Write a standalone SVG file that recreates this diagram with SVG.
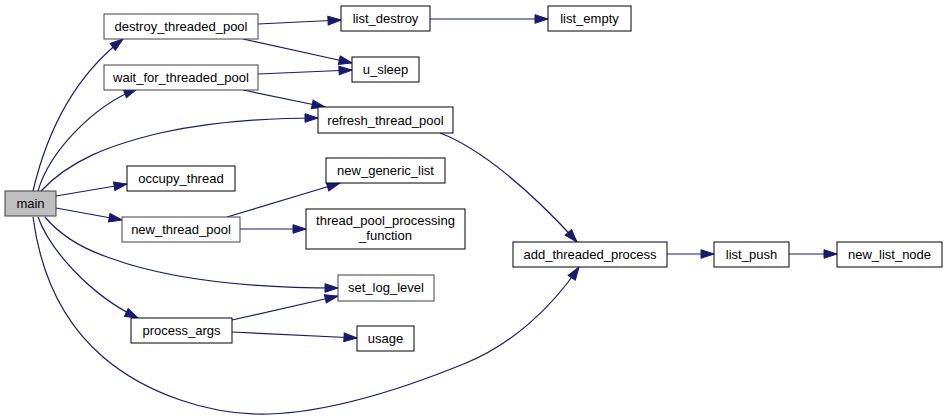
<svg xmlns="http://www.w3.org/2000/svg" width="947" height="420" viewBox="0 0 947 420">
<style>
.n rect{fill:#fff;stroke:#000;stroke-width:1}
.n.d rect{stroke:#404040}
.n.m rect{fill:#bfbfbf;stroke:#404040}
.n text{font-family:"Liberation Sans",Arial,sans-serif;font-size:13px;fill:#000;text-anchor:middle}
.e path{fill:none;stroke:#191970;stroke-width:1.2}
</style>
<defs>
<marker id="a" markerUnits="userSpaceOnUse" markerWidth="15" markerHeight="11" refX="14" refY="5.5" orient="auto" viewBox="0 0 15 11">
<path d="M1,1.2 L14,5.5 L1,9.8 Z" fill="#191970" stroke="#191970" stroke-width="1"/>
</marker>
</defs>
<rect width="947" height="420" fill="#fff"/>
<g id="edges" class="e">
<path marker-end="url(#a)" d="M33,191 C45,140 70,80 123,39"/>
<path marker-end="url(#a)" d="M38,191 C50,150 95,105 137,89"/>
<path marker-end="url(#a)" d="M41,191 C70,160 110,145 160,133 C210,122 260,118 318,118"/>
<path marker-end="url(#a)" d="M56,196 L127,184"/>
<path marker-end="url(#a)" d="M56,208 L122,220"/>
<path marker-end="url(#a)" d="M45,217 C60,235 80,248 110,258 C170,280 250,288 338,288"/>
<path marker-end="url(#a)" d="M38,217 C50,250 90,295 138,318"/>
<path marker-end="url(#a)" d="M33,217 C40,270 60,320 103,357 C145,393 210,416 269,414 C330,412 400,390 466,363 C510,345 550,310 579,267"/>
<path marker-end="url(#a)" d="M258,24 L341,20"/>
<path marker-end="url(#a)" d="M243,39 L352,63"/>
<path marker-end="url(#a)" d="M258,74 L352,70"/>
<path marker-end="url(#a)" d="M243,90 L325,107"/>
<path marker-end="url(#a)" d="M430,19 L548,19"/>
<path marker-end="url(#a)" d="M440,133 C480,148 530,190 577,242"/>
<path marker-end="url(#a)" d="M227,217 L340,183"/>
<path marker-end="url(#a)" d="M240,229 L306,229"/>
<path marker-end="url(#a)" d="M232,320 L338,296"/>
<path marker-end="url(#a)" d="M232,332 L357,338"/>
<path marker-end="url(#a)" d="M667,254 L714,254"/>
<path marker-end="url(#a)" d="M789,254 L837,254"/>
</g>
<g id="main" class="n m"><rect x="5" y="191" width="51" height="25"/><text x="30.5" y="208">main</text></g>
<g id="destroy_threaded_pool" class="n d"><rect x="104" y="14" width="154" height="25"/><text x="181" y="31">destroy_threaded_pool</text></g>
<g id="wait_for_threaded_pool" class="n d"><rect x="104" y="65" width="154" height="25"/><text x="181" y="82">wait_for_threaded_pool</text></g>
<g id="list_destroy" class="n"><rect x="341" y="6" width="89" height="25"/><text x="385.5" y="23">list_destroy</text></g>
<g id="list_empty" class="n"><rect x="548" y="6" width="83" height="25"/><text x="589.5" y="23">list_empty</text></g>
<g id="u_sleep" class="n"><rect x="352" y="57" width="67" height="25"/><text x="385.5" y="74">u_sleep</text></g>
<g id="refresh_thread_pool" class="n"><rect x="318" y="107" width="135" height="26"/><text x="385.5" y="124.5">refresh_thread_pool</text></g>
<g id="occupy_thread" class="n"><rect x="127" y="166" width="108" height="25"/><text x="181" y="183">occupy_thread</text></g>
<g id="new_thread_pool" class="n d"><rect x="122" y="217" width="118" height="25"/><text x="181" y="234">new_thread_pool</text></g>
<g id="new_generic_list" class="n"><rect x="326" y="158" width="119" height="25"/><text x="385.5" y="175">new_generic_list</text></g>
<g id="thread_pool_processing_function" class="n"><rect x="306" y="209" width="159" height="40"/><text x="385.5" y="225">thread_pool_processing</text><text x="385.5" y="240">_function</text></g>
<g id="add_threaded_process" class="n"><rect x="513" y="242" width="154" height="25"/><text x="590" y="259">add_threaded_process</text></g>
<g id="list_push" class="n"><rect x="714" y="242" width="75" height="25"/><text x="751.5" y="259">list_push</text></g>
<g id="new_list_node" class="n"><rect x="837" y="242" width="105" height="25"/><text x="889.5" y="259">new_list_node</text></g>
<g id="set_log_level" class="n d"><rect x="338" y="275" width="96" height="26"/><text x="386" y="292">set_log_level</text></g>
<g id="process_args" class="n"><rect x="131" y="318" width="101" height="25"/><text x="181.5" y="335">process_args</text></g>
<g id="usage" class="n"><rect x="357" y="326" width="57" height="25"/><text x="385.5" y="343">usage</text></g>
</svg>
